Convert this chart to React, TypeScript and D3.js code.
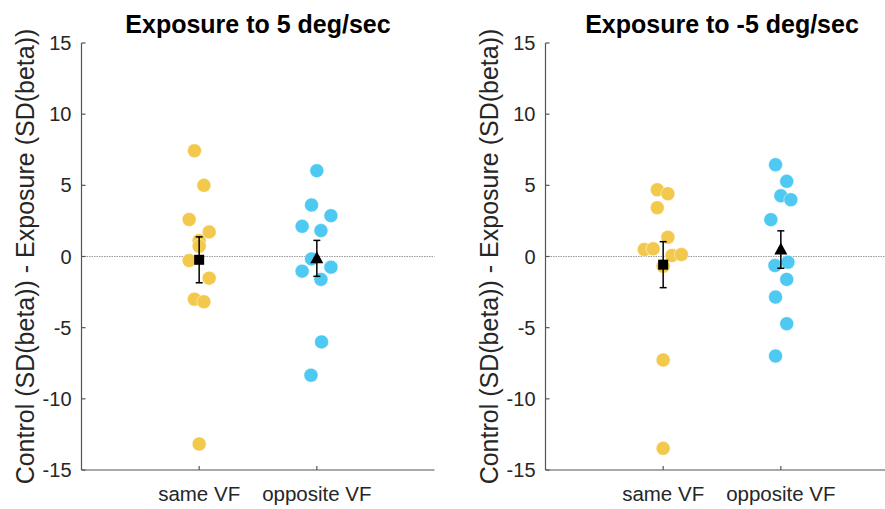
import React from "react";
import * as d3 from "d3";

// Group labels and panel titles
const categories = ["same VF", "opposite VF"];
const panelTitles = ["Exposure to 5 deg/sec", "Exposure to -5 deg/sec"];
const yTicks = [-15, -10, -5, 0, 5, 10, 15];
const yLabel = "Control (SD(beta)) - Exposure (SD(beta))";

// Per-subject differences, exposure to +5 deg/sec
const pos5Same = [7.43, 5.0, 2.6, 1.73, 1.12, 0.72, -0.28, -1.52, -3.0, -3.18, -13.17];
const pos5SameJitter = [-0.04, 0.04, -0.085, 0.085, 0, 0, -0.085, 0.085, -0.04, 0.04, 0];
const pos5Opp = [6.03, 3.62, 2.87, 2.12, 1.82, -0.17, -1.03, -0.75, -1.61, -8.34, -6.0];
const pos5OppJitter = [0, -0.045, 0.12, -0.125, 0.035, -0.045, -0.125, 0.12, 0.035, -0.05, 0.04];

// Per-subject differences, exposure to -5 deg/sec
const neg5Same = [4.69, 4.41, 3.43, 1.35, 0.49, 0.54, 0.07, 0.14, -0.68, -7.27, -13.48];
const neg5SameJitter = [-0.05, 0.04, -0.05, 0.04, -0.16, -0.085, 0.075, 0.155, 0, 0, 0];
const neg5Opp = [6.45, 5.28, 4.27, 3.99, 2.59, -0.63, -0.4, -1.61, -2.85, -4.72, -6.99];
const neg5OppJitter = [-0.045, 0.05, 0, 0.085, -0.085, -0.05, 0.06, 0.05, -0.045, 0.05, -0.045];

const YELLOW = "#F2C94C";
const BLUE = "#4DC9F2";
const AXIS = "#555555";
const FONT = "'Liberation Sans', Arial, Helvetica, sans-serif";

type Group = { values: number[]; jitter: number[]; color: string; marker: "square" | "triangle" };

const panels: { title: string; left: number; groups: Group[] }[] = [
  {
    title: panelTitles[0],
    left: 81.5,
    groups: [
      { values: pos5Same, jitter: pos5SameJitter, color: YELLOW, marker: "square" },
      { values: pos5Opp, jitter: pos5OppJitter, color: BLUE, marker: "triangle" },
    ],
  },
  {
    title: panelTitles[1],
    left: 545.5,
    groups: [
      { values: neg5Same, jitter: neg5SameJitter, color: YELLOW, marker: "square" },
      { values: neg5Opp, jitter: neg5OppJitter, color: BLUE, marker: "triangle" },
    ],
  },
];

const PANEL_W = 353;
const TOP = 43;
const BOTTOM = 470;

function Panel({ title, left, groups }: { title: string; left: number; groups: Group[] }) {
  const x = d3.scaleLinear().domain([0, 3]).range([left, left + PANEL_W]);
  const y = d3.scaleLinear().domain([-15, 15]).range([BOTTOM, TOP]);
  const midY = (TOP + BOTTOM) / 2;

  return (
    <g>
      {/* zero reference */}
      <line x1={x(0)} x2={x(3)} y1={y(0)} y2={y(0)} stroke="#9a9a9a" strokeWidth={1} strokeDasharray="1.5,1" />

      {/* subject points */}
      {groups.map((g, gi) =>
        g.values.map((v, i) => (
          <circle
            key={`p${gi}-${i}`}
            cx={x(gi + 1 + g.jitter[i])}
            cy={y(v)}
            r={7}
            fill={g.color}
            stroke="#ffffff"
            strokeOpacity={0.6}
            strokeWidth={0.8}
          />
        ))
      )}

      {/* group mean ± SEM */}
      {groups.map((g, gi) => {
        const m = d3.mean(g.values) as number;
        const sem = (d3.deviation(g.values) as number) / Math.sqrt(g.values.length);
        const cx = x(gi + 1);
        const cap = 3.5;
        return (
          <g key={`m${gi}`}>
            <line x1={cx} x2={cx} y1={y(m - sem)} y2={y(m + sem)} stroke="#000" strokeWidth={1.5} />
            <line x1={cx - cap} x2={cx + cap} y1={y(m - sem)} y2={y(m - sem)} stroke="#000" strokeWidth={1.5} />
            <line x1={cx - cap} x2={cx + cap} y1={y(m + sem)} y2={y(m + sem)} stroke="#000" strokeWidth={1.5} />
            {g.marker === "square" ? (
              <rect x={cx - 5} y={y(m) - 5} width={10} height={10} fill="#000" />
            ) : (
              <path
                d={`M${cx},${y(m) - 7} L${cx + 6.5},${y(m) + 5} L${cx - 6.5},${y(m) + 5} Z`}
                fill="#000"
              />
            )}
          </g>
        );
      })}

      {/* y axis */}
      <line x1={x(0)} x2={x(0)} y1={TOP} y2={BOTTOM} stroke={AXIS} strokeWidth={1.2} />
      {yTicks.map((t) => (
        <g key={`yt${t}`}>
          <line x1={x(0)} x2={x(0) + 4} y1={y(t)} y2={y(t)} stroke={AXIS} strokeWidth={1.2} />
          <text
            x={x(0) - 10}
            y={y(t)}
            textAnchor="end"
            dominantBaseline="central"
            fontFamily={FONT}
            fontSize={20}
            fill="#262626"
          >
            {t}
          </text>
        </g>
      ))}

      {/* x axis */}
      <line x1={x(0)} x2={x(3)} y1={BOTTOM} y2={BOTTOM} stroke={AXIS} strokeWidth={1.2} />
      {categories.map((c, i) => (
        <g key={`xt${i}`}>
          <line x1={x(i + 1)} x2={x(i + 1)} y1={BOTTOM} y2={BOTTOM - 4} stroke={AXIS} strokeWidth={1.2} />
          <text
            x={x(i + 1)}
            y={BOTTOM + 31}
            textAnchor="middle"
            fontFamily={FONT}
            fontSize={20.5}
            fill="#262626"
          >
            {c}
          </text>
        </g>
      ))}

      {/* y label */}
      <text
        transform={`translate(${x(0) - 57},${midY}) rotate(-90)`}
        textAnchor="middle"
        dominantBaseline="central"
        fontFamily={FONT}
        fontSize={25}
        fill="#262626"
      >
        {yLabel}
      </text>

      {/* title */}
      <text
        x={x(1.5)}
        y={33}
        textAnchor="middle"
        fontFamily={FONT}
        fontSize={25}
        fontWeight="bold"
        fill="#000"
      >
        {title}
      </text>
    </g>
  );
}

export default function App() {
  return (
    <svg
      width={885}
      height={509}
      viewBox="0 0 885 509"
      style={{ position: "absolute", left: 0, top: 0, background: "#fff" }}
    >
      <rect width={885} height={509} fill="#fff" />
      {panels.map((p, i) => (
        <Panel key={i} title={p.title} left={p.left} groups={p.groups} />
      ))}
    </svg>
  );
}
